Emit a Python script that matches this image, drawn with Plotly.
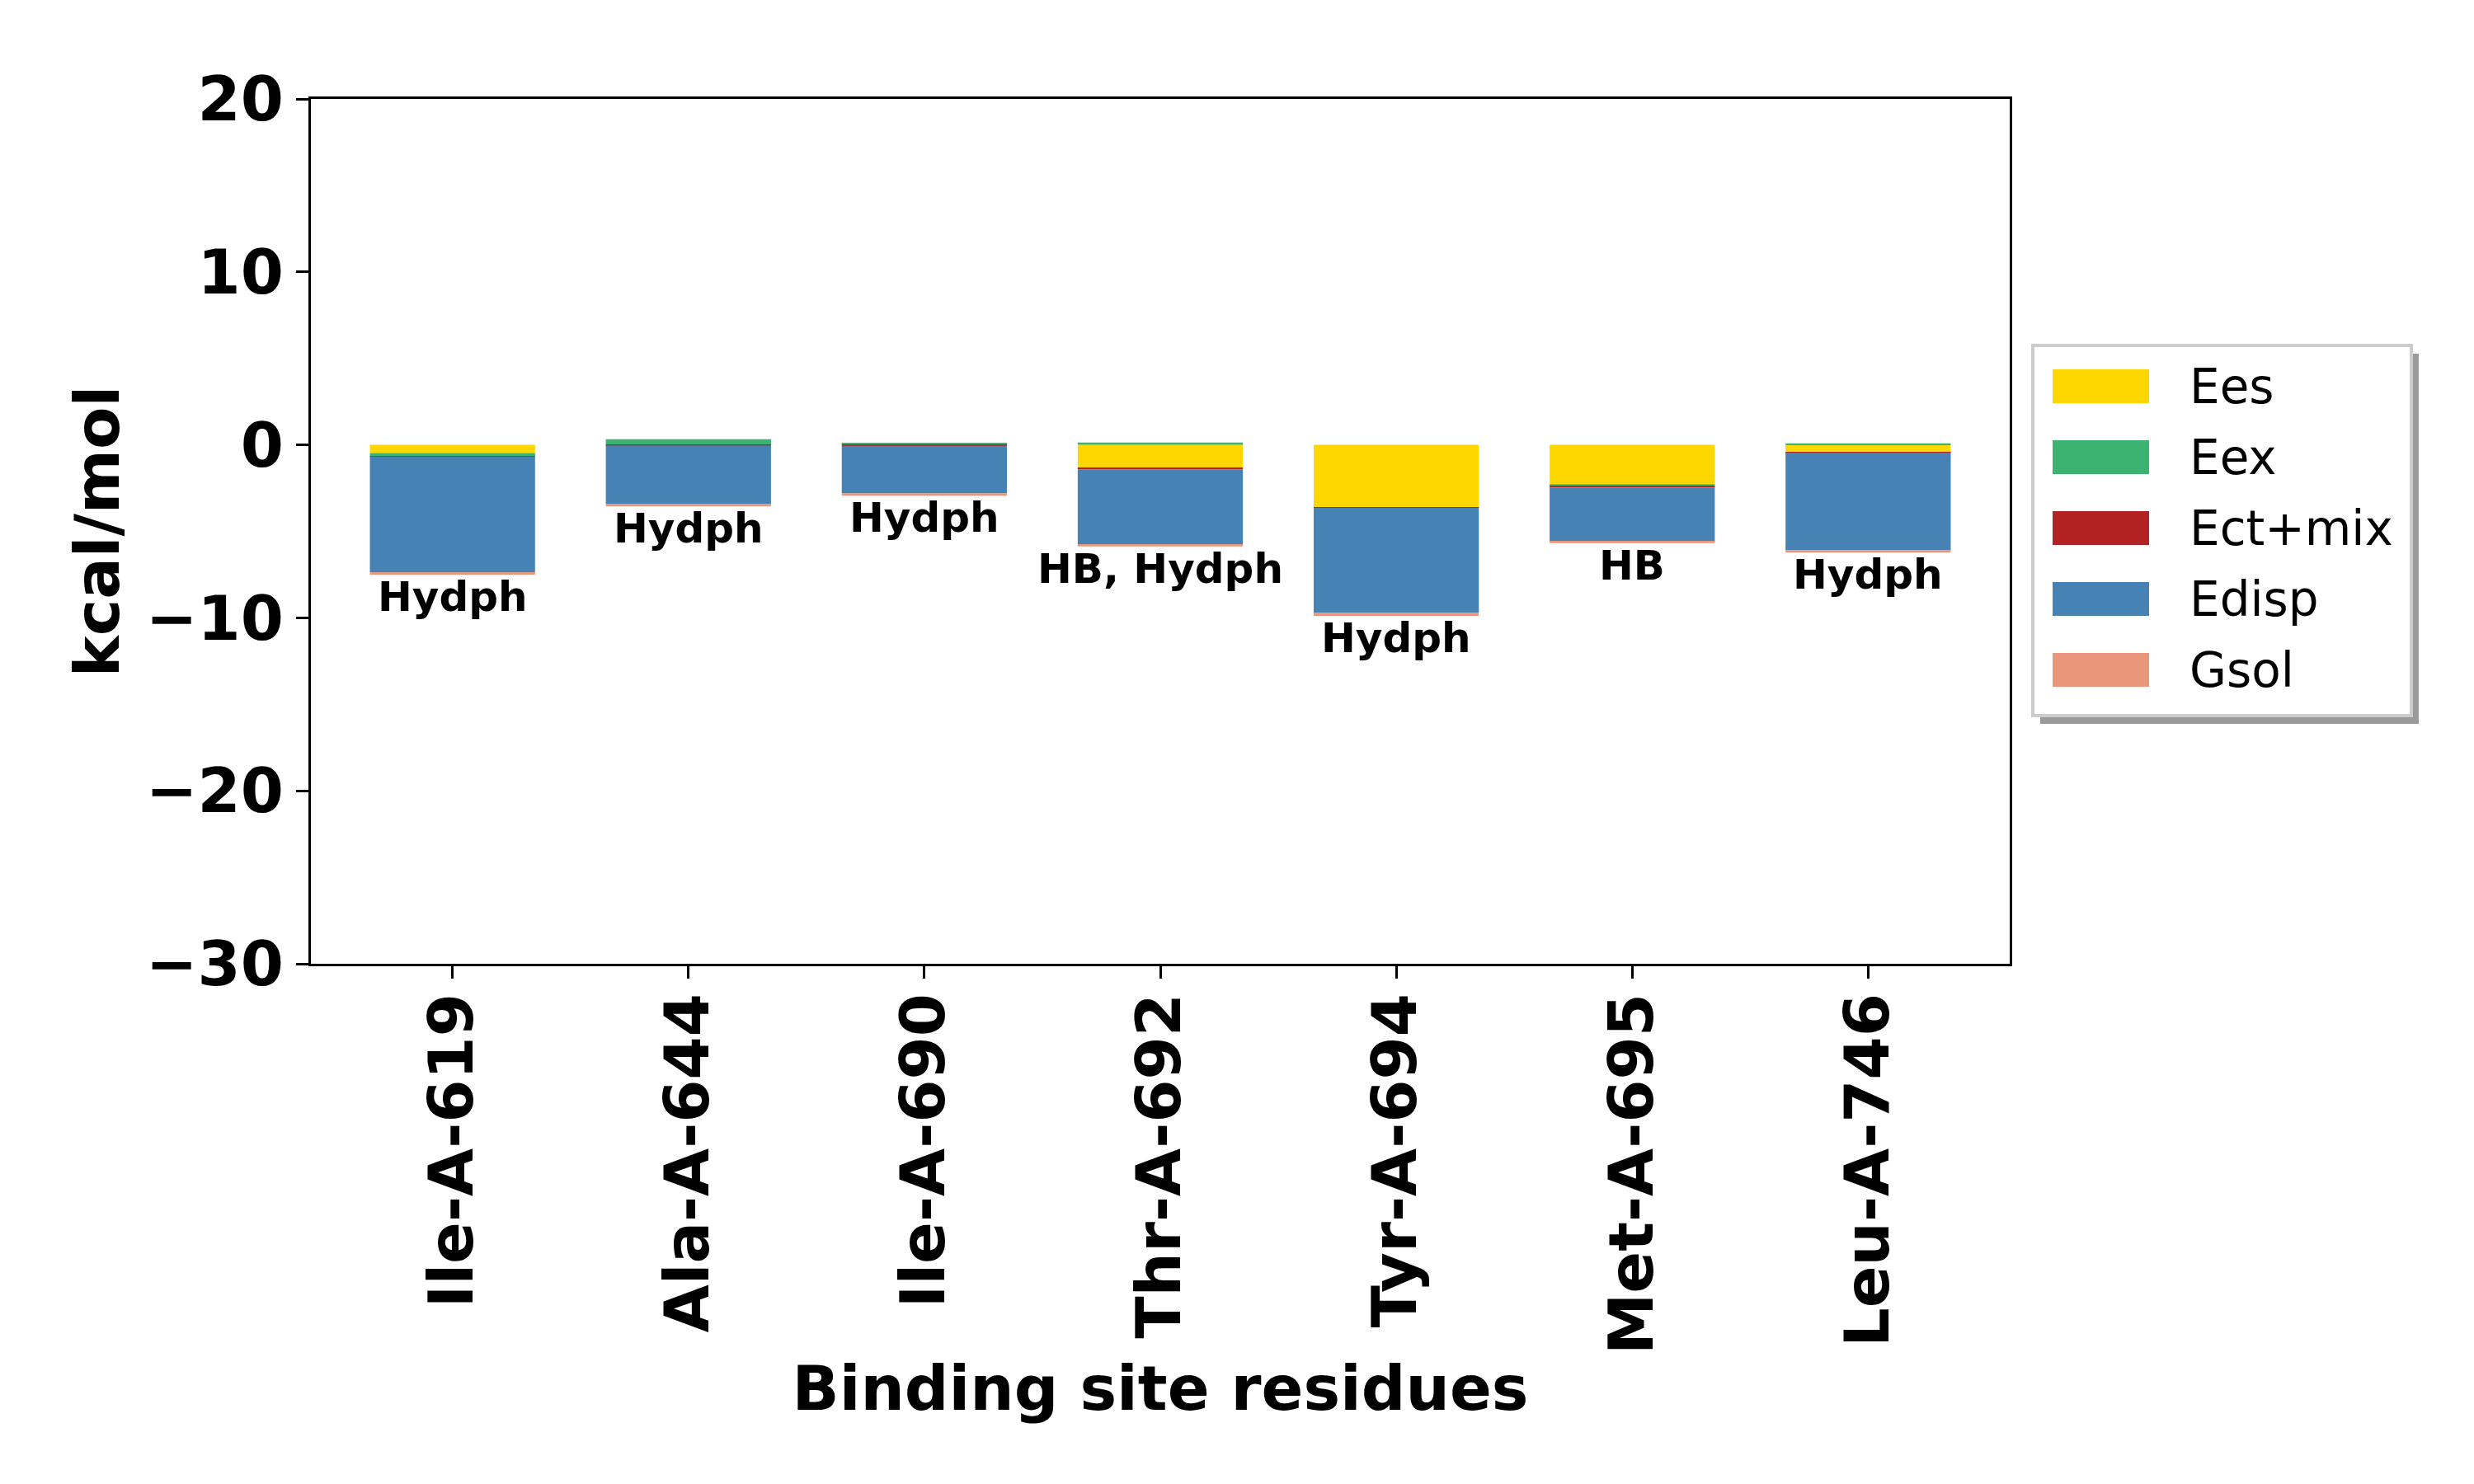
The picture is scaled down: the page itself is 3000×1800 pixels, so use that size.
import plotly.graph_objects as go

# Binding site residues and energy components (kcal/mol)
RESIDUES = ["Ile-A-619", "Ala-A-644", "Ile-A-690", "Thr-A-692", "Tyr-A-694", "Met-A-695", "Leu-A-746"]
EES = [-0.47, 0.00, 0.06, -1.33, -3.60, -2.27, -0.43]
EEX = [-0.19, 0.33, 0.03, 0.14, -0.02, -0.13, 0.09]
ECT_MIX = [-0.02, -0.03, -0.05, -0.09, -0.02, -0.06, -0.02]
EDISP = [-6.68, -3.40, -2.76, -4.36, -6.07, -3.13, -5.64]
GSOL = [-0.14, -0.13, -0.13, -0.09, -0.17, -0.09, -0.14]
INTERACTIONS = ["Hydph", "Hydph", "Hydph", "HB, Hydph", "Hydph", "HB", "Hydph"]

COMPONENTS = [
    ("Ees", EES, "#FFD700"),
    ("Eex", EEX, "#3CB371"),
    ("Ect+mix", ECT_MIX, "#B22222"),
    ("Edisp", EDISP, "#4682B4"),
    ("Gsol", GSOL, "#E9967A"),
]

FONT = "DejaVu Sans"
W, H = 3000, 1800
PLOT_L, PLOT_R, PLOT_T, PLOT_B = 369, 2429, 112, 1161


def px_x(px):
    return (px - PLOT_L) / (PLOT_R - PLOT_L)


def px_y(py):
    return (PLOT_B - py) / (PLOT_B - PLOT_T)


fig = go.Figure()
for name, values, color in COMPONENTS:
    fig.add_trace(go.Bar(
        x=RESIDUES,
        y=values,
        name=name,
        marker=dict(color=color, line=dict(width=0)),
        width=0.7,
        showlegend=False,
    ))

# label each bar just below the bottom of its negative stack
for i, res in enumerate(RESIDUES):
    bottom = sum(min(v[i], 0) for _, v, _ in COMPONENTS)
    fig.add_annotation(
        x=res, y=bottom, text=INTERACTIONS[i],
        showarrow=False, yanchor="top", yshift=4,
        font=dict(family=FONT, size=50, color="black", weight="bold"),
    )

# matplotlib-style legend box (shadow, frame, wide swatches)
LEG_L, LEG_R, LEG_T, LEG_B = 2457, 2916, 411, 860
shapes = [
    dict(type="rect", xref="paper", yref="paper",
         x0=px_x(LEG_L + 9), x1=px_x(LEG_R + 9), y0=px_y(LEG_B + 10), y1=px_y(LEG_T + 10),
         fillcolor="#9a9a9a", line=dict(width=0), layer="above"),
    dict(type="rect", xref="paper", yref="paper",
         x0=px_x(LEG_L), x1=px_x(LEG_R), y0=px_y(LEG_B), y1=px_y(LEG_T),
         fillcolor="white", line=dict(color="#cccccc", width=4), layer="above"),
]
for k, (name, _, color) in enumerate(COMPONENTS):
    top = 440 + 86 * k
    shapes.append(dict(type="rect", xref="paper", yref="paper",
                       x0=px_x(2481), x1=px_x(2598), y0=px_y(top + 41), y1=px_y(top),
                       fillcolor=color, line=dict(width=0), layer="above"))
    fig.add_annotation(
        xref="paper", yref="paper", x=px_x(2645), y=px_y(top + 20.5),
        xanchor="left", yanchor="middle", text=name, showarrow=False,
        font=dict(family=FONT, size=58, color="black"),
    )

axis_common = dict(
    showline=True, linecolor="black", linewidth=3.3, mirror=True,
    ticks="outside", ticklen=15, tickwidth=3.3, tickcolor="black",
    showgrid=False, zeroline=False,
    tickfont=dict(family=FONT, size=75, color="black", weight="bold"),
)

fig.update_layout(
    width=W, height=H,
    barmode="relative",
    plot_bgcolor="white", paper_bgcolor="white",
    margin=dict(l=PLOT_L, r=W - PLOT_R, t=PLOT_T, b=H - PLOT_B),
    shapes=shapes,
    showlegend=False,
    xaxis=dict(
        **axis_common,
        range=[-0.6, 6.6],
        tickangle=-90,
        ticklabelstandoff=-12,
        title=dict(text="Binding site residues", standoff=16,
                   font=dict(family=FONT, size=75, color="black", weight="bold")),
    ),
    yaxis=dict(
        **axis_common,
        range=[-30, 20],
        tickvals=[-30, -20, -10, 0, 10, 20],
        title=dict(text="kcal/mol", standoff=8,
                   font=dict(family=FONT, size=75, color="black", weight="bold")),
    ),
)

fig.write_html("out.html")
